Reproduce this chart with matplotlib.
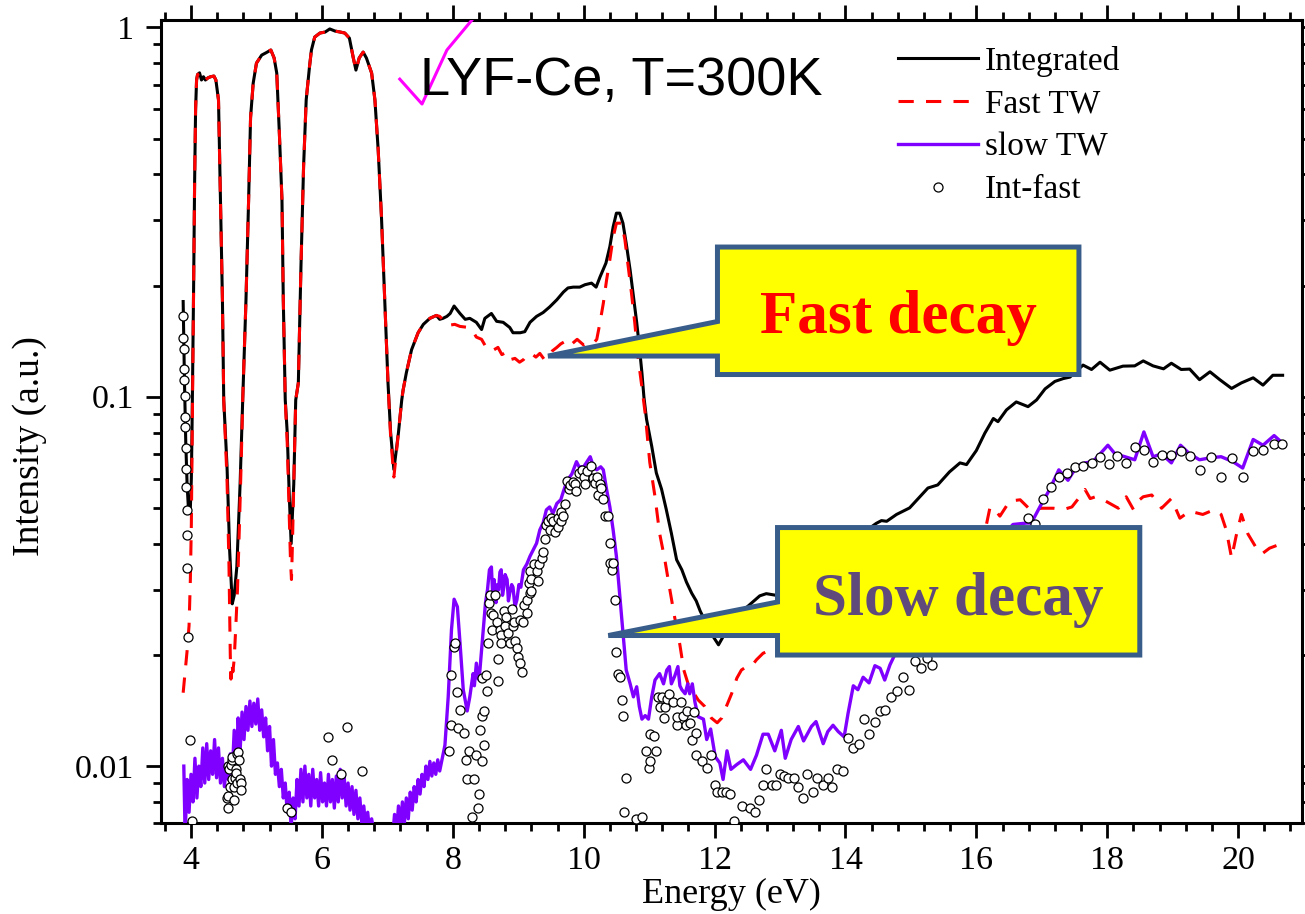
import numpy as np
import matplotlib.pyplot as plt
from matplotlib import ticker
from matplotlib.patches import Polygon

plt.rcParams['font.family'] = ['Liberation Serif', 'DejaVu Serif']

# Integrated spectrum
int_energy = [3.88, 3.89, 3.90, 3.91, 3.92, 3.94, 3.96, 3.99, 4.005, 4.015,
              4.025, 4.04, 4.055, 4.07, 4.085, 4.10, 4.13, 4.16, 4.19, 4.22,
              4.26, 4.30, 4.35, 4.38, 4.42, 4.45, 4.48, 4.50, 4.55, 4.59,
              4.63, 4.66, 4.70, 4.75, 4.79, 4.84, 4.88, 4.91, 4.95, 5.00,
              5.08, 5.15, 5.22, 5.27, 5.31, 5.35, 5.39, 5.41, 5.44, 5.47,
              5.50, 5.53, 5.57, 5.60, 5.64, 5.68, 5.72, 5.76, 5.81, 5.84,
              5.89, 5.97, 6.05, 6.12, 6.20, 6.28, 6.35, 6.42, 6.48, 6.52,
              6.57, 6.63, 6.68, 6.76, 6.81, 6.86, 6.91, 6.96, 7.01, 7.05,
              7.10, 7.17, 7.22, 7.24, 7.29, 7.37, 7.47, 7.55, 7.65, 7.75,
              7.80, 7.85, 7.91, 7.96, 8.02, 8.11, 8.19, 8.26, 8.36, 8.44,
              8.49, 8.59, 8.67, 8.77, 8.87, 8.92, 9.03, 9.10, 9.18, 9.28,
              9.38, 9.48, 9.59, 9.69, 9.76, 9.84, 9.94, 10.02, 10.12, 10.19,
              10.25, 10.34, 10.40, 10.45, 10.50, 10.55, 10.60, 10.65, 10.71, 10.76,
              10.81, 10.85, 10.89, 10.92, 10.96, 11.04, 11.11, 11.19, 11.26, 11.34,
              11.42, 11.50, 11.57, 11.65, 11.72, 11.78, 11.88, 11.98, 12.06, 12.13,
              12.21, 12.35, 12.50, 12.69, 12.79, 12.94, 14.47, 14.55, 14.63, 14.78,
              14.98, 15.14, 15.26, 15.41, 15.59, 15.75, 15.85, 16.00, 16.13, 16.26,
              16.33, 16.46, 16.61, 16.79, 16.92, 17.05, 17.20, 17.33, 17.43, 17.63,
              17.76, 17.89, 18.04, 18.24, 18.42, 18.55, 18.70, 18.86, 18.98, 19.13,
              19.26, 19.41, 19.57, 19.72, 19.90, 20.05, 20.23, 20.38, 20.53, 20.68]
int_signal = [0.181, 0.14, 0.11, 0.09, 0.075, 0.058, 0.05, 0.05, 0.06, 0.08,
              0.115, 0.2, 0.38, 0.6, 0.72, 0.745, 0.753, 0.72, 0.735, 0.72,
              0.73, 0.735, 0.738, 0.72, 0.636, 0.34, 0.183, 0.098, 0.065, 0.0385,
              0.0275, 0.029, 0.0346, 0.058, 0.098, 0.183, 0.34, 0.57, 0.706, 0.80,
              0.841, 0.854, 0.868, 0.826, 0.752, 0.517, 0.34, 0.183, 0.098, 0.08,
              0.055, 0.040, 0.058, 0.098, 0.109, 0.225, 0.42, 0.636, 0.781, 0.868,
              0.941, 0.965, 0.971, 0.99, 0.977, 0.971, 0.965, 0.935, 0.826, 0.766,
              0.826, 0.857, 0.826, 0.752, 0.636, 0.466, 0.307, 0.183, 0.109, 0.08,
              0.0635, 0.08, 0.098, 0.104, 0.116, 0.134, 0.149, 0.157, 0.163, 0.166,
              0.162, 0.163, 0.165, 0.168, 0.176, 0.168, 0.162, 0.163, 0.159, 0.152,
              0.163, 0.168, 0.160, 0.159, 0.154, 0.149, 0.149, 0.150, 0.159, 0.165,
              0.169, 0.175, 0.183, 0.192, 0.197, 0.198, 0.198, 0.201, 0.203, 0.198,
              0.211, 0.23, 0.255, 0.288, 0.314, 0.314, 0.295, 0.26, 0.22, 0.187,
              0.159, 0.137, 0.116, 0.1, 0.087, 0.0734, 0.0622, 0.0562, 0.0497, 0.0427,
              0.0362, 0.034, 0.0315, 0.0294, 0.028, 0.0263, 0.0242, 0.0224, 0.0213, 0.0224,
              0.0231, 0.025, 0.027, 0.0289, 0.0293, 0.029, 0.0454, 0.0462, 0.046, 0.048,
              0.050, 0.0537, 0.0566, 0.0577, 0.0626, 0.0662, 0.0655, 0.0715, 0.0797, 0.0873,
              0.0856, 0.0921, 0.0968, 0.094, 0.098, 0.105, 0.110, 0.112, 0.113, 0.1218,
              0.1185, 0.124, 0.118, 0.121, 0.1212, 0.125, 0.1212, 0.119, 0.1232, 0.1185,
              0.1188, 0.1112, 0.1168, 0.1112, 0.1053, 0.109, 0.1125, 0.1075, 0.1143, 0.1143]

# Fast time window
fast_energy = [3.88, 3.91, 3.94, 3.97, 3.99, 4.005, 4.015, 4.025, 4.04, 4.055,
               4.07, 4.085, 4.10, 4.13, 4.16, 4.19, 4.22, 4.26, 4.30, 4.35,
               4.38, 4.42, 4.45, 4.48, 4.50, 4.55, 4.58, 4.60, 4.61, 4.625,
               4.64, 4.66, 4.68, 4.71, 4.74, 4.77, 4.79, 4.84, 4.88, 4.91,
               4.95, 5.00, 5.08, 5.15, 5.22, 5.27, 5.31, 5.35, 5.39, 5.41,
               5.44, 5.47, 5.50, 5.52, 5.535, 5.55, 5.57, 5.60, 5.64, 5.68,
               5.72, 5.76, 5.81, 5.84, 5.89, 5.97, 6.05, 6.12, 6.20, 6.28,
               6.35, 6.42, 6.48, 6.52, 6.57, 6.63, 6.68, 6.76, 6.81, 6.86,
               6.91, 6.96, 7.01, 7.05, 7.10, 7.17, 7.22, 7.24, 7.29, 7.37,
               7.47, 7.55, 7.65, 7.75, 7.80, 7.93, 8.03, 8.11, 8.24, 8.31,
               8.36, 8.44, 8.50, 8.57, 8.63, 8.69, 8.75, 8.82, 8.88, 8.95,
               9.02, 9.08, 9.14, 9.20, 9.27, 9.33, 9.40, 9.46, 9.52, 9.59,
               9.65, 9.71, 9.78, 9.84, 9.90, 9.94, 10.00, 10.07, 10.14, 10.20,
               10.25, 10.30, 10.35, 10.40, 10.45, 10.50, 10.58, 10.63, 10.68, 10.73,
               10.78, 10.83, 10.89, 10.94, 11.01, 11.09, 11.16, 11.24, 11.31, 11.39,
               11.47, 11.53, 11.60, 11.68, 11.75, 11.85, 11.95, 12.04, 12.11, 12.18,
               12.26, 12.34, 12.41, 12.49, 12.57, 12.64, 12.74, 12.87, 14.50, 16.13,
               16.21, 16.28, 16.36, 16.51, 16.67, 16.82, 17.00, 17.18, 17.33, 17.46,
               17.56, 17.66, 17.74, 17.82, 17.94, 18.04, 18.17, 18.29, 18.40, 18.47,
               18.55, 18.68, 18.83, 18.98, 19.11, 19.26, 19.46, 19.64, 19.74, 19.82,
               19.90, 19.97, 20.05, 20.15, 20.28, 20.36, 20.48, 20.66]
fast_signal = [0.0158, 0.018, 0.0205, 0.024, 0.032, 0.045, 0.07, 0.11, 0.2, 0.38,
               0.6, 0.72, 0.745, 0.75, 0.725, 0.73, 0.72, 0.73, 0.735, 0.738,
               0.72, 0.636, 0.34, 0.183, 0.098, 0.06, 0.035, 0.02, 0.0172, 0.019,
               0.018, 0.0195, 0.023, 0.03, 0.045, 0.07, 0.098, 0.183, 0.34, 0.57,
               0.706, 0.80, 0.841, 0.86, 0.868, 0.826, 0.752, 0.517, 0.34, 0.183,
               0.098, 0.075, 0.048, 0.036, 0.032, 0.04, 0.058, 0.098, 0.109, 0.225,
               0.42, 0.636, 0.781, 0.868, 0.941, 0.965, 0.971, 0.99, 0.977, 0.971,
               0.965, 0.935, 0.826, 0.766, 0.826, 0.857, 0.826, 0.752, 0.636, 0.466,
               0.307, 0.183, 0.109, 0.078, 0.0606, 0.08, 0.098, 0.104, 0.116, 0.134,
               0.149, 0.157, 0.163, 0.166, 0.165, 0.156, 0.157, 0.155, 0.154, 0.150,
               0.145, 0.143, 0.137, 0.138, 0.134, 0.136, 0.130, 0.132, 0.126, 0.127,
               0.124, 0.126, 0.130, 0.131, 0.128, 0.131, 0.126, 0.128, 0.133, 0.136,
               0.139, 0.141, 0.137, 0.140, 0.143, 0.141, 0.138, 0.140, 0.139, 0.143,
               0.159, 0.179, 0.207, 0.235, 0.27, 0.295, 0.295, 0.266, 0.225, 0.191,
               0.159, 0.128, 0.106, 0.09, 0.0664, 0.0536, 0.0427, 0.0362, 0.0305, 0.0253,
               0.0213, 0.0182, 0.0166, 0.0158, 0.0151, 0.0145, 0.0135, 0.0131, 0.0135, 0.0145,
               0.0157, 0.0173, 0.0182, 0.0186, 0.0187, 0.0194, 0.0202, 0.0207, 0.032, 0.043,
               0.0503, 0.0495, 0.0475, 0.0522, 0.0526, 0.0495, 0.0499, 0.0499, 0.0495, 0.0503,
               0.053, 0.0561, 0.053, 0.0536, 0.0526, 0.0514, 0.0499, 0.0536, 0.0495, 0.0522,
               0.0536, 0.0542, 0.0499, 0.053, 0.0469, 0.049, 0.048, 0.0495, 0.048, 0.0435,
               0.0366, 0.042, 0.048, 0.0425, 0.0389, 0.0375, 0.0389, 0.040]

# Slow time window
slow_energy = [3.89, 3.91, 3.94, 3.97, 4.00, 4.03, 4.06, 4.09, 4.12, 4.15,
               4.18, 4.21, 4.24, 4.27, 4.30, 4.33, 4.36, 4.39, 4.42, 4.45,
               4.48, 4.51, 4.54, 4.57, 4.60, 4.63, 4.66, 4.69, 4.72, 4.75,
               4.78, 4.81, 4.84, 4.87, 4.90, 4.93, 4.96, 4.99, 5.02, 5.05,
               5.08, 5.11, 5.14, 5.17, 5.20, 5.23, 5.26, 5.29, 5.32, 5.35,
               5.38, 5.41, 5.44, 5.47, 5.50, 5.53, 5.56, 5.59, 5.62, 5.65,
               5.68, 5.71, 5.74, 5.77, 5.80, 5.83, 5.86, 5.89, 5.92, 5.95,
               5.98, 6.01, 6.04, 6.07, 6.10, 6.13, 6.16, 6.19, 6.22, 6.25,
               6.28, 6.31, 6.34, 6.37, 6.40, 6.43, 6.46, 6.49, 6.52, 6.55,
               6.58, 6.61, 6.64, 6.67, 6.70, 6.73, 6.76, 6.80, 6.85, 6.90,
               6.95, 7.00, 7.05, 7.08, 7.11, 7.14, 7.17, 7.20, 7.23, 7.26,
               7.29, 7.32, 7.35, 7.38, 7.41, 7.44, 7.47, 7.50, 7.53, 7.56,
               7.59, 7.62, 7.65, 7.68, 7.71, 7.74, 7.77, 7.80, 7.84, 7.88,
               7.93, 7.98, 8.02, 8.07, 8.11, 8.16, 8.22, 8.26, 8.31, 8.33,
               8.36, 8.39, 8.41, 8.45, 8.50, 8.53, 8.56, 8.59, 8.61, 8.63,
               8.66, 8.68, 8.70, 8.72, 8.74, 8.76, 8.78, 8.80, 8.83, 8.85,
               8.87, 8.90, 8.92, 8.95, 8.98, 9.01, 9.04, 9.08, 9.13, 9.18,
               9.23, 9.28, 9.33, 9.38, 9.43, 9.48, 9.53, 9.59, 9.65, 9.69,
               9.75, 9.82, 9.89, 9.93, 10.00, 10.05, 10.10, 10.15, 10.20, 10.26,
               10.30, 10.35, 10.40, 10.45, 10.50, 10.54, 10.58, 10.61, 10.65, 10.71,
               10.76, 10.81, 10.85, 10.89, 10.94, 10.99, 11.04, 11.09, 11.16, 11.22,
               11.27, 11.31, 11.34, 11.39, 11.44, 11.47, 11.50, 11.55, 11.59, 11.62,
               11.66, 11.70, 11.75, 11.83, 11.88, 11.94, 12.01, 12.08, 12.13, 12.19,
               12.25, 12.34, 12.44, 12.55, 12.64, 12.74, 12.82, 12.92, 13.02, 13.08,
               13.17, 13.28, 13.36, 13.48, 13.55, 13.66, 13.73, 13.81, 13.89, 13.98,
               14.04, 14.12, 14.19, 14.27, 14.36, 14.45, 14.53, 14.60, 14.68, 14.77,
               16.56, 16.77, 16.84, 16.97, 17.12, 17.26, 17.40, 17.53, 17.66, 17.78,
               17.89, 18.01, 18.12, 18.27, 18.42, 18.56, 18.70, 18.83, 18.98, 19.12,
               19.26, 19.41, 19.59, 19.74, 19.92, 20.07, 20.23, 20.38, 20.55, 20.66]
slow_signal = [0.0100, 0.0065, 0.0092, 0.0075, 0.0095, 0.0080, 0.0105, 0.0082, 0.0100, 0.0088,
               0.0112, 0.0090, 0.0115, 0.0092, 0.0110, 0.0095, 0.0118, 0.0093, 0.0112, 0.0090,
               0.0105, 0.0088, 0.0100, 0.0092, 0.0108, 0.0095, 0.0125, 0.0100, 0.0135, 0.0110,
               0.0140, 0.0118, 0.0145, 0.0125, 0.0150, 0.0128, 0.0148, 0.0130, 0.0152, 0.0125,
               0.0142, 0.0120, 0.0135, 0.0110, 0.0128, 0.0100, 0.0118, 0.0095, 0.0102, 0.0088,
               0.0098, 0.0082, 0.0090, 0.0075, 0.0085, 0.0068, 0.0082, 0.0072, 0.0092, 0.0078,
               0.0098, 0.0080, 0.0100, 0.0082, 0.0095, 0.0078, 0.0098, 0.0082, 0.0092, 0.0078,
               0.0096, 0.0080, 0.0090, 0.0078, 0.0095, 0.0080, 0.0092, 0.0077, 0.0094, 0.0080,
               0.0098, 0.0082, 0.0094, 0.0078, 0.0090, 0.0076, 0.0088, 0.0074, 0.0086, 0.0072,
               0.0082, 0.0070, 0.0078, 0.0068, 0.0075, 0.0066, 0.0072, 0.0065, 0.0069, 0.0064,
               0.0067, 0.0063, 0.0068, 0.0064, 0.0074, 0.0066, 0.0078, 0.0068, 0.0080, 0.0070,
               0.0082, 0.0072, 0.0085, 0.0076, 0.0088, 0.0080, 0.0092, 0.0084, 0.0095, 0.0088,
               0.0100, 0.0092, 0.0103, 0.0094, 0.0102, 0.0095, 0.0104, 0.0097, 0.0105, 0.0114,
               0.0154, 0.0234, 0.0283, 0.0270, 0.0216, 0.0161, 0.0141, 0.0154, 0.0178, 0.0165,
               0.0190, 0.0172, 0.0178, 0.0216, 0.0277, 0.0300, 0.0340, 0.0346, 0.0290, 0.0320,
               0.0277, 0.0310, 0.0300, 0.0335, 0.0340, 0.0290, 0.0305, 0.0330, 0.0320, 0.0280,
               0.0294, 0.0310, 0.0305, 0.0270, 0.0282, 0.0310, 0.0305, 0.0340, 0.0352, 0.0370,
               0.0385, 0.0401, 0.0436, 0.0455, 0.0494, 0.0503, 0.0483, 0.0514, 0.0526, 0.0554,
               0.0594, 0.0618, 0.0667, 0.0646, 0.0646, 0.0667, 0.0688, 0.0646, 0.0634, 0.0646,
               0.0634, 0.0561, 0.0503, 0.0436, 0.0370, 0.0305, 0.0253, 0.0220, 0.0182, 0.0167,
               0.0154, 0.0164, 0.0145, 0.0134, 0.0137, 0.0134, 0.0154, 0.0171, 0.0178, 0.0167,
               0.0182, 0.0186, 0.0167, 0.0175, 0.0186, 0.0165, 0.0161, 0.0157, 0.0167, 0.0157,
               0.0167, 0.0149, 0.0136, 0.0134, 0.0118, 0.0126, 0.0106, 0.0102, 0.0092, 0.0110,
               0.0098, 0.0101, 0.0104, 0.0098, 0.0107, 0.0122, 0.0122, 0.0110, 0.0125, 0.0105,
               0.0118, 0.0128, 0.0117, 0.0128, 0.0132, 0.0115, 0.0124, 0.0129, 0.0124, 0.0120,
               0.0139, 0.0165, 0.0161, 0.0174, 0.0168, 0.0187, 0.0184, 0.0171, 0.0188, 0.0203,
               0.0451, 0.0455, 0.0455, 0.0503, 0.0561, 0.0634, 0.0594, 0.0646, 0.0662, 0.0667,
               0.0700, 0.0739, 0.0700, 0.0688, 0.0675, 0.0803, 0.0688, 0.0700, 0.0662, 0.0739,
               0.0700, 0.0675, 0.0684, 0.0688, 0.0667, 0.0641, 0.0766, 0.0739, 0.0785, 0.0754]

# Integrated minus fast (open circles)
diff_energy = [3.88, 3.885, 3.89, 3.895, 3.90, 3.905, 3.91, 3.915, 3.92, 3.925,
               3.93, 3.935, 3.94, 3.945, 3.955, 3.985, 4.01,
               4.55, 4.56, 4.57, 4.57, 4.58, 4.60, 4.61, 4.62, 4.62, 4.63,
               4.65, 4.66, 4.67, 4.68, 4.69, 4.70, 4.71, 4.72, 4.74, 4.75,
               4.77, 4.77, 5.46, 5.53, 6.10, 6.16, 6.29, 6.39, 6.61,
               7.94, 7.97, 7.98, 8.02, 8.03, 8.06, 8.08, 8.11, 8.17, 8.20,
               8.22, 8.25, 8.29, 8.33, 8.36, 8.39, 8.40, 8.41, 8.44, 8.44,
               8.45, 8.47, 8.48, 8.51, 8.53, 8.54, 8.55, 8.57, 8.58, 8.60,
               8.62, 8.65, 8.67, 8.69, 8.69, 8.72, 8.73, 8.74, 8.78, 8.80,
               8.82, 8.85, 8.87, 8.90, 8.92, 8.93, 8.95, 8.98, 9.00, 9.03,
               9.05, 9.03, 9.08, 9.09, 9.13, 9.13, 9.17, 9.18, 9.18, 9.20,
               9.20, 9.24, 9.28, 9.30, 9.32, 9.36, 9.38, 9.41, 9.43, 9.46,
               9.48, 9.50, 9.53, 9.56, 9.60, 9.61, 9.65, 9.66, 9.69, 9.71,
               9.74, 9.77, 9.79, 9.84, 9.87, 9.89, 9.93, 9.97, 10.00, 10.02,
               10.05, 10.11, 10.14, 10.17, 10.21, 10.22, 10.25, 10.27, 10.30, 10.32,
               10.37, 10.40, 10.40, 10.43, 10.45, 10.48, 10.50, 10.53, 10.55, 10.58,
               10.60, 10.61, 10.64, 10.80, 10.89, 10.95, 11.00, 11.01, 11.01, 11.07,
               11.11, 11.13, 11.16, 11.20, 11.22, 11.24, 11.27, 11.31, 11.36, 11.42,
               11.43, 11.48, 11.52, 11.56, 11.58, 11.62, 11.66, 11.68, 11.72, 11.72,
               11.81, 11.88, 11.94, 12.00, 12.04, 12.11, 12.17, 12.23, 12.29, 12.42,
               12.54, 12.62, 12.68, 12.74, 12.79, 12.87, 12.94, 13.00, 13.06, 13.12,
               13.21, 13.28, 13.35, 13.42, 13.50, 13.57, 13.65, 13.73, 13.80, 13.87,
               13.96, 14.04, 14.12, 14.20, 14.28, 14.36, 14.45, 14.53, 14.61, 14.70,
               14.79, 14.88, 14.97, 15.06, 15.15, 15.24, 15.33,
               16.79, 16.89, 17.02, 17.14, 17.26, 17.39, 17.51, 17.63, 17.76, 17.89,
               18.02, 18.15, 18.28, 18.42, 18.56, 18.70, 18.84, 18.98, 19.13, 19.27,
               19.42, 19.58, 19.74, 19.91, 20.07, 20.23, 20.38, 20.55, 20.67]
diff_signal = [0.165, 0.144, 0.135, 0.119, 0.111, 0.1007, 0.088, 0.0828, 0.0728, 0.0638,
               0.0569, 0.0494, 0.0423, 0.0343, 0.0223, 0.0118, 0.0071,
               0.0082, 0.0077, 0.0083, 0.0100, 0.0098, 0.0088, 0.0101, 0.0104, 0.0092, 0.0106,
               0.0088, 0.0081, 0.0093, 0.0098, 0.0096, 0.0108, 0.0090, 0.0109, 0.0104, 0.0092,
               0.0090, 0.0086, 0.0077, 0.0075, 0.0120, 0.0104, 0.0095, 0.0128, 0.0097,
               0.0110, 0.0129, 0.0176, 0.0210, 0.0216, 0.0159, 0.0127, 0.0142, 0.0123, 0.0104,
               0.0092, 0.0110, 0.0073, 0.0092, 0.0107, 0.0077, 0.0084, 0.0125, 0.0103, 0.0137,
               0.0173, 0.0114, 0.0141, 0.0177, 0.0160, 0.0216, 0.0277, 0.0290, 0.0259, 0.0234,
               0.0257, 0.0290, 0.0245, 0.0195, 0.0170, 0.0234, 0.0226, 0.0216, 0.0263, 0.0239,
               0.0253, 0.0229, 0.0216, 0.0266, 0.0239, 0.0245, 0.0218, 0.0209, 0.0197, 0.0190,
               0.0180, 0.0249, 0.0245, 0.0273, 0.0259, 0.0282, 0.0313, 0.0294, 0.0337, 0.0298,
               0.0322, 0.0352, 0.0337, 0.0318, 0.0352, 0.0366, 0.0380, 0.0413, 0.0449, 0.0462,
               0.0436, 0.0469, 0.0462, 0.0429, 0.0444, 0.0469, 0.0462, 0.0488, 0.0476, 0.0512,
               0.0591, 0.0563, 0.0576, 0.0589, 0.0582, 0.0557, 0.0621, 0.0633, 0.0606, 0.0582,
               0.0628, 0.0650, 0.0602, 0.0585, 0.0606, 0.0543, 0.0582, 0.0565, 0.0530, 0.0474,
               0.0474, 0.0401, 0.0354, 0.0339, 0.0355, 0.0282, 0.0204, 0.0178, 0.0174, 0.0151,
               0.0137, 0.0075, 0.0093, 0.0072, 0.0073, 0.0110, 0.0099, 0.0103, 0.0122, 0.0121,
               0.0110, 0.0154, 0.0145, 0.0154, 0.0135, 0.0145, 0.0152, 0.0157, 0.0149, 0.0129,
               0.0136, 0.0149, 0.0137, 0.0129, 0.0141, 0.0131, 0.0118, 0.0140, 0.0123, 0.0107,
               0.0103, 0.0099, 0.0107, 0.0089, 0.0085, 0.0085, 0.0085, 0.0084, 0.0071, 0.0078,
               0.0077, 0.0075, 0.0081, 0.0089, 0.0098, 0.0089, 0.0089, 0.0095, 0.0094, 0.0093,
               0.0093, 0.0088, 0.0082, 0.0095, 0.0085, 0.0093, 0.0089, 0.0093, 0.0088, 0.0098,
               0.0097, 0.0119, 0.0112, 0.0115, 0.0134, 0.0122, 0.0132, 0.0141, 0.0142, 0.0154,
               0.0160, 0.0174, 0.0161, 0.0193, 0.0184, 0.0196, 0.0188,
               0.0471, 0.0451, 0.0529, 0.0569, 0.0606, 0.0621, 0.0646, 0.0650, 0.0663, 0.0688,
               0.0656, 0.0693, 0.0662, 0.0730, 0.0718, 0.0667, 0.0694, 0.0694, 0.0713, 0.0693,
               0.0634, 0.0688, 0.0606, 0.0684, 0.0606, 0.0714, 0.0719, 0.0747, 0.0744]

# stray pen stroke near the title
stroke_energy = [7.19, 7.53, 7.91, 8.42]
stroke_signal = [0.724, 0.62, 0.868, 1.114]

fig = plt.figure(figsize=(13.05, 9.14), dpi=100)
ax = fig.add_axes([0.1230, 0.0992, 0.8749, 0.8789])

ax.plot(int_energy, int_signal, color='black', lw=2.2, label='Integrated', zorder=2)
ax.plot(fast_energy, fast_signal, color='#FF0000', lw=2.2, dashes=(5, 4), label='Fast TW', zorder=3)
ax.plot(slow_energy, slow_signal, color='#8000FF', lw=2.4, label='slow TW', zorder=4)
ax.plot(diff_energy, diff_signal, ls='none', marker='o', ms=6.5, mfc='white', mec='black',
        mew=0.9, label='Int-fast', zorder=5)
ax.plot(stroke_energy, stroke_signal, color='#FF00FF', lw=2.2, zorder=6)

ax.set_yscale('log')
ax.set_xlim(3.534, 20.98)
ax.set_ylim(0.007, 1.0466)

ax.xaxis.set_major_locator(ticker.FixedLocator([4, 6, 8, 10, 12, 14, 16, 18, 20]))
ax.xaxis.set_minor_locator(ticker.MultipleLocator(0.4))
ax.yaxis.set_major_locator(ticker.FixedLocator([0.01, 0.1, 1]))
ax.yaxis.set_minor_locator(ticker.LogLocator(base=10, subs=np.arange(2, 10)))
ax.yaxis.set_major_formatter(ticker.FuncFormatter(lambda v, p: '%g' % v))
ax.yaxis.set_minor_formatter(ticker.NullFormatter())

ax.tick_params(which='both', direction='out', top=True, right=True, width=2)
ax.tick_params(which='major', length=11, labelsize=24.5)
ax.tick_params(which='minor', length=6)
ax.tick_params(axis='x', pad=5)
ax.tick_params(axis='y', pad=8)
for sp in ax.spines.values():
    sp.set_linewidth(2.2)

ax.set_xlabel('Energy (eV)', fontsize=26)
ax.set_ylabel('Intensity (a.u.)', fontsize=27)
ax.xaxis.set_label_coords(0.5, -0.068)
ax.yaxis.set_label_coords(-0.0995, 0.4697)

ax.legend(loc='upper left', bbox_to_anchor=(0.6455, 0.968), frameon=False, fontsize=24,
          handlelength=2.4, handletextpad=0.21, labelspacing=0.37, borderpad=0,
          borderaxespad=0, numpoints=1)

ax.text(0.2273, 0.9066, 'LYF-Ce, T=300K', transform=ax.transAxes, fontsize=39,
        family='Liberation Sans', ha='left', va='baseline', zorder=7)

# callout shapes
fast_box = [(0.4878, 0.7174), (0.8044, 0.7174), (0.8044, 0.5587), (0.4878, 0.5587),
            (0.4878, 0.5817), (0.3394, 0.5817), (0.4878, 0.6247)]
slow_box = [(0.5404, 0.3682), (0.8577, 0.3682), (0.8577, 0.2095), (0.5404, 0.2095),
            (0.5404, 0.2338), (0.3922, 0.2338), (0.5404, 0.2755)]
for pts in (fast_box, slow_box):
    ax.add_patch(Polygon(pts, closed=True, transform=ax.transAxes, facecolor='#FFFF00',
                         edgecolor='#385D8A', lw=3.6, joinstyle='miter', zorder=8,
                         clip_on=False))

ax.text(0.6459, 0.6104, 'Fast decay', transform=ax.transAxes, fontsize=44,
        fontweight='bold', color='#FF0000', ha='center', va='baseline', zorder=9)
ax.text(0.6991, 0.2593, 'Slow decay', transform=ax.transAxes, fontsize=44,
        fontweight='bold', color='#604A7B', ha='center', va='baseline', zorder=9)

fig.savefig('out.png', dpi=100)
